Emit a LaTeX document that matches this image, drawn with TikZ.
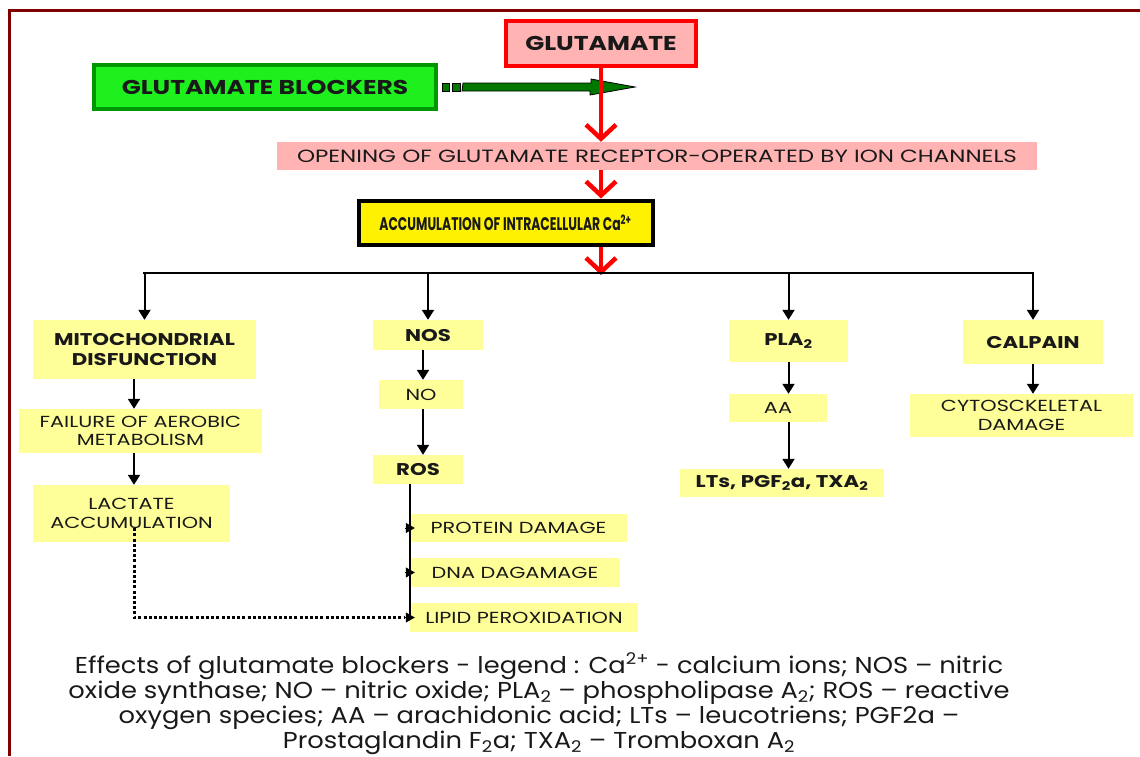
\documentclass[tikz,border=0pt]{standalone}
\usepackage{fontspec}
\setmainfont{Poppins}
\newfontfamily\regf[FakeStretch=1.3]{Poppins}
\newfontfamily\boldf[FakeStretch=1.25]{Poppins}
\newfontfamily\accf[FakeStretch=0.68]{Poppins}
\newfontfamily\legendfont[FakeStretch=1.12]{Poppins}
\usetikzlibrary{arrows.meta,calc}
\definecolor{framered}{RGB}{128,0,0}
\definecolor{pinkfill}{RGB}{255,179,179}
\definecolor{gluered}{RGB}{255,0,0}
\definecolor{brightgreen}{RGB}{30,240,30}
\definecolor{bordergreen}{RGB}{0,150,0}
\definecolor{darkgreen}{RGB}{0,120,0}
\definecolor{lightyellow}{RGB}{255,255,153}
\definecolor{txt}{RGB}{25,25,25}
\begin{document}
\begin{tikzpicture}[x=1pt,y=-1pt,
  every node/.style={text=txt, inner sep=0pt, align=center},
  lbox/.style={fill=lightyellow, font=\regf\fontsize{16}{18.5}\selectfont},
  lboxb/.style={fill=lightyellow, font=\boldf\bfseries\fontsize{17}{20}\selectfont},
  redarrow/.style={draw=gluered, line width=4pt, -{Straight Barb[length=14pt,width=30pt,line width=4.5pt]}},
  blackarrow/.style={draw=black, line width=2pt, -{Triangle[length=10pt,width=12pt]}},
  blackline/.style={draw=black, line width=2.5pt},
]
\useasboundingbox (0,0) rectangle (1140,756);
\draw[framered, line width=3pt] (1140,10) -- (9,10) -- (9,756);

% top boxes
\node[draw=gluered, line width=4pt, fill=pinkfill, minimum width=190pt, minimum height=45pt,
      font=\boldf\bfseries\fontsize{20}{22}\selectfont] (glu) at (601,43.5) {GLUTAMATE};
\node[draw=bordergreen, line width=4pt, fill=brightgreen, minimum width=342pt, minimum height=44pt,
      font=\boldf\bfseries\fontsize{20}{22}\selectfont] (blk) at (265,87) {GLUTAMATE BLOCKERS};
\coordinate (tip) at (635,87);

% green arrow
\filldraw[fill=darkgreen, draw=black, line width=0.8pt] ($(blk.east)+(4,-4)$) rectangle ++(7,8);
\filldraw[fill=darkgreen, draw=black, line width=0.8pt] ($(blk.east)+(14,-4)$) rectangle ++(8,8);
\filldraw[fill=darkgreen, draw=black, line width=0.8pt]
  ($(blk.east)+(25,-4)$) -- ++(128,0) -- ++(0,-4) -- (tip) -- ++(-45,8) -- ++(0,-4) -- ++(-128,0) -- cycle;

\node[fill=pinkfill, minimum width=760pt, minimum height=28pt,
      font=\regf\fontsize{17.7}{19}\selectfont] (open) at (657,156) {OPENING OF GLUTAMATE RECEPTOR-OPERATED BY ION CHANNELS};
\node[draw=black, line width=4pt, fill=yellow, minimum width=294pt, minimum height=44pt,
      font=\accf\bfseries\fontsize{18.2}{20}\selectfont] (acc) at (505.5,222.5) {ACCUMULATION OF INTRACELLULAR Ca\textsuperscript{2+}};

\draw[redarrow] (glu.south) -- (glu.south |- open.north);
\draw[redarrow] (glu.south |- open.south) -- (glu.south |- acc.north);

% second level
\node[lboxb, minimum width=223pt, minimum height=59pt] (mito) at (144.5,349.5) {MITOCHONDRIAL\\DISFUNCTION};
\node[lboxb, minimum width=110pt, minimum height=30pt] (nos) at (428,335) {NOS};
\node[lboxb, minimum width=119pt, minimum height=42pt] (pla) at (788.5,341) {PLA\textsubscript{2}};
\node[lboxb, minimum width=140pt, minimum height=44pt] (calp) at (1033,342) {CALPAIN};

\coordinate (hub) at (glu.south |- 0,273);
\draw[redarrow, shorten >=-2pt] (glu.south |- acc.south) -- (hub);
\draw[blackline] ([yshift=-1.25pt]mito.north |- hub) -- (mito.north |- hub) -- (calp.north |- hub) -- ([yshift=-1.25pt]calp.north |- hub);
\draw[blackarrow] (mito.north |- hub) -- (mito.north);
\draw[blackarrow] (nos.north |- hub) -- (nos.north);
\draw[blackarrow] (pla.north |- hub) -- (pla.north);
\draw[blackarrow] (calp.north |- hub) -- (calp.north);

% mitochondrial column
\node[lbox, minimum width=243pt, minimum height=44pt] (fail) at (140.5,431) {FAILURE OF AEROBIC\\METABOLISM};
\node[lbox, minimum width=197pt, minimum height=57pt] (lact) at (131.5,513.5) {LACTATE\\ACCUMULATION};
\coordinate (mcol) at (134,0);
\draw[blackarrow] (mcol |- mito.south) -- (mcol |- fail.north);
\draw[blackarrow] (mcol |- fail.south) -- (mcol |- lact.north);

% NOS column
\node[lbox, minimum width=84pt, minimum height=29pt] (no) at (421,394.5) {NO};
\node[lboxb, minimum width=90pt, minimum height=29pt] (ros) at (418,469.5) {ROS};
\coordinate (ncol) at (423,0);
\draw[blackarrow] (ncol |- nos.south) -- (ncol |- no.north);
\draw[blackarrow] (ncol |- no.south) -- (ncol |- ros.north);

\node[lbox, minimum width=217pt, minimum height=28pt] (prot) at (518.5,528) {PROTEIN DAMAGE};
\node[lbox, minimum width=210pt, minimum height=29pt] (dna) at (515,572.5) {DNA DAGAMAGE};
\node[lbox, minimum width=228pt, minimum height=29pt] (lipid) at (524,617.5) {LIPID PEROXIDATION};
\draw[black, line width=2pt] (prot.west |- ros.south) -- (lipid.west);
\foreach \n in {prot,dna,lipid}
  \draw[black, line width=1pt, -{Triangle[length=9pt,width=10pt]}] ([xshift=-5pt]\n.west) -- ([xshift=5pt]\n.west);

% dotted connector
\draw[black, line width=3pt, dash pattern=on 3pt off 2.2pt]
  ([yshift=14pt]mcol |- lact.south) |- ([xshift=-6pt]lipid.west);

% PLA column
\node[lbox, minimum width=98pt, minimum height=28pt] (aa) at (778,408) {AA};
\node[lboxb, minimum width=204pt, minimum height=28pt] (lts) at (782,483) {LTs, PGF\textsubscript{2}a, TXA\textsubscript{2}};
\draw[blackarrow] (pla.south) -- (pla.south |- aa.north);
\draw[blackarrow] (pla.south |- aa.south) -- (pla.south |- lts.north);

% calpain column
\node[lbox, minimum width=223pt, minimum height=43pt] (cyto) at (1021.5,415.5) {CYTOSCKELETAL\\DAMAGE};
\draw[blackarrow] (calp.south) -- (calp.south |- cyto.north);

% legend
\node[font=\legendfont\fontsize{23}{25}\selectfont] (legend) at (539,704) {Effects of glutamate blockers - legend : Ca\textsuperscript{2+} - calcium ions; NOS – nitric\\
oxide synthase; NO – nitric oxide; PLA\textsubscript{2} – phospholipase A\textsubscript{2}; ROS – reactive\\
oxygen species; AA – arachidonic acid; LTs – leucotriens; PGF2a –\\
Prostaglandin F\textsubscript{2}a; TXA\textsubscript{2} – Tromboxan A\textsubscript{2}};
\end{tikzpicture}
\end{document}
